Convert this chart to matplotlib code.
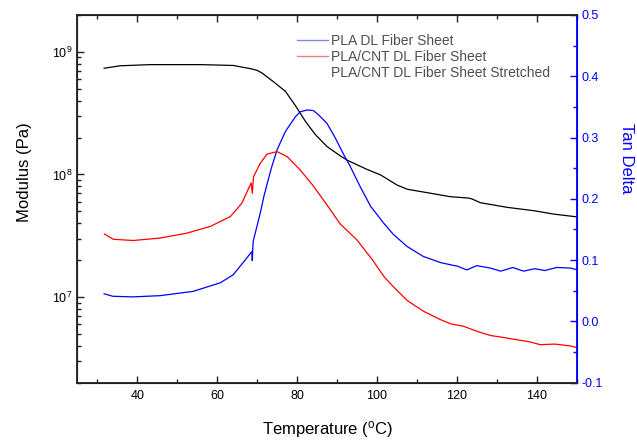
import matplotlib
matplotlib.use("Agg")
import matplotlib.pyplot as plt
from matplotlib.lines import Line2D
from matplotlib.ticker import MultipleLocator, LogLocator, FormatStrFormatter, NullFormatter

plt.rcParams['font.family'] = ['Liberation Sans', 'DejaVu Sans']
plt.rcParams['mathtext.fontset'] = 'custom'
plt.rcParams['mathtext.rm'] = 'Liberation Sans'
plt.rcParams['axes.unicode_minus'] = False

# Storage modulus (Pa) vs temperature (°C)
mod_temp = [31.7, 35.7, 43.2, 55.8, 64.0, 68.3, 70.0, 71.2, 74.0, 77.1, 79.6, 82.1,
            84.6, 87.5, 90.8, 92.5, 97.5, 100.9, 105.0, 107.6, 112.6, 118.4, 122.9,
            123.8, 125.9, 132.6, 139.3, 144.2, 150.2]
modulus = [7.35e8, 7.7e8, 7.87e8, 7.87e8, 7.75e8, 7.3e8, 7.07e8, 6.73e8, 5.74e8, 4.76e8,
           3.64e8, 2.71e8, 2.11e8, 1.69e8, 1.42e8, 1.31e8, 1.10e8, 9.91e7, 8.21e7, 7.57e7,
           7.10e7, 6.58e7, 6.42e7, 6.31e7, 5.88e7, 5.39e7, 5.06e7, 4.75e7, 4.5e7]

# Tan delta, PLA DL fiber sheet
pla_temp = [31.7, 33.9, 38.9, 45.7, 54.0, 60.8, 64.0, 66.5, 68.7, 68.8, 69.0, 70.8, 71.7,
            72.9, 73.7, 75.0, 77.1, 79.6, 80.8, 82.5, 84.1, 85.4, 87.5, 89.6, 91.7, 93.3,
            95.8, 98.4, 101.6, 104.1, 107.6, 111.6, 115.9, 118.0, 120.2, 122.5, 125.0,
            128.4, 131.0, 134.0, 136.7, 139.5, 142.0, 145.0, 148.5, 150.2]
pla_tan = [0.045, 0.041, 0.040, 0.042, 0.049, 0.063, 0.076, 0.096, 0.114, 0.099, 0.130,
           0.177, 0.204, 0.234, 0.253, 0.280, 0.310, 0.334, 0.342, 0.345, 0.344, 0.337,
           0.323, 0.299, 0.272, 0.253, 0.220, 0.188, 0.161, 0.142, 0.122, 0.106, 0.096,
           0.093, 0.090, 0.084, 0.091, 0.087, 0.082, 0.088, 0.082, 0.086, 0.083, 0.088,
           0.087, 0.084]

# Tan delta, PLA/CNT DL fiber sheet
cnt_temp = [31.8, 34.0, 39.0, 45.7, 52.4, 58.3, 63.3, 66.2, 68.5, 68.8, 69.1, 70.8, 72.5,
            75.0, 77.5, 80.8, 84.2, 87.5, 90.8, 95.0, 98.8, 101.9, 104.2, 107.6, 111.7,
            115.9, 118.5, 121.7, 125.0, 128.4, 131.5, 135.1, 138.0, 140.9, 144.5, 148.4,
            150.2]
cnt_tan = [0.1425, 0.134, 0.132, 0.136, 0.144, 0.155, 0.171, 0.193, 0.226, 0.209, 0.236,
           0.258, 0.273, 0.277, 0.269, 0.247, 0.220, 0.190, 0.159, 0.133, 0.101, 0.072,
           0.056, 0.034, 0.0164, 0.0029, -0.004, -0.008, -0.016, -0.023, -0.026, -0.030,
           -0.033, -0.038, -0.037, -0.040, -0.043]

legend_labels = ["PLA DL Fiber Sheet", "PLA/CNT DL Fiber Sheet",
                 "PLA/CNT DL Fiber Sheet Stretched"]

fig = plt.figure(figsize=(6.37, 4.42), dpi=100)
ax = fig.add_axes([0.1214, 0.1342, 0.7839, 0.8319])
ax2 = ax.twinx()

ax.plot(mod_temp, modulus, color='black', lw=0.9)
ax.set_yscale('log')
ax.set_ylim(2e6, 2e9)
ax.set_xlim(25, 150)

ax2.plot(pla_temp, pla_tan, color='blue', lw=0.9)
ax2.plot(cnt_temp, cnt_tan, color='red', lw=0.9)
ax2.set_ylim(-0.1, 0.5)

ax.xaxis.set_major_locator(MultipleLocator(20))
ax.xaxis.set_minor_locator(MultipleLocator(10))
ax.yaxis.set_major_locator(LogLocator(base=10, numticks=10))
ax.yaxis.set_minor_locator(LogLocator(base=10, subs=range(2, 10), numticks=10))
ax.yaxis.set_minor_formatter(NullFormatter())
ax.tick_params(axis='both', which='both', direction='in', labelsize=9, color='#222222',
               width=1.0)
ax.tick_params(axis='x', which='both', top=True, pad=5.5)
ax.tick_params(axis='both', which='major', length=5)
ax.tick_params(axis='both', which='minor', length=3)
ax.tick_params(axis='y', which='both', right=False)

ax2.yaxis.set_major_locator(MultipleLocator(0.1))
ax2.yaxis.set_minor_locator(MultipleLocator(0.05))
ax2.yaxis.set_major_formatter(FormatStrFormatter('%.1f'))
ax2.tick_params(axis='y', which='both', direction='in', colors='blue', labelsize=9,
                width=1.0)
ax2.tick_params(axis='y', which='major', length=5)
ax2.tick_params(axis='y', which='minor', length=3)

for s in ['left', 'top', 'bottom']:
    ax2.spines[s].set_color('#222222')
    ax2.spines[s].set_linewidth(1.3)
ax2.spines['right'].set_color('blue')
ax2.spines['right'].set_linewidth(1.3)

ax.set_xlabel(r"Temperature ($\mathregular{^o}$C)", fontsize=12, labelpad=12)
ax.set_ylabel("Modulus (Pa)", fontsize=12)
ax.yaxis.set_label_coords(-0.091, 0.572)
ax2.set_ylabel("Tan Delta", fontsize=12, color='blue', rotation=270, va='center')
ax2.yaxis.set_label_coords(1.10, 0.611)

handles = [Line2D([], [], color='#7f8fd0', lw=1.0),
           Line2D([], [], color='#e08585', lw=1.0),
           Line2D([], [], color='none', lw=1.0)]
leg = ax2.legend(handles, legend_labels, loc='upper left', frameon=False,
                 bbox_to_anchor=(0.44, 0.949),
                 fontsize=10, handlelength=2.2, handletextpad=0.27, labelspacing=0.17,
                 borderaxespad=0.0, borderpad=0.0)
for t in leg.get_texts():
    t.set_color('#505050')

fig.savefig("out.png", dpi=100)
